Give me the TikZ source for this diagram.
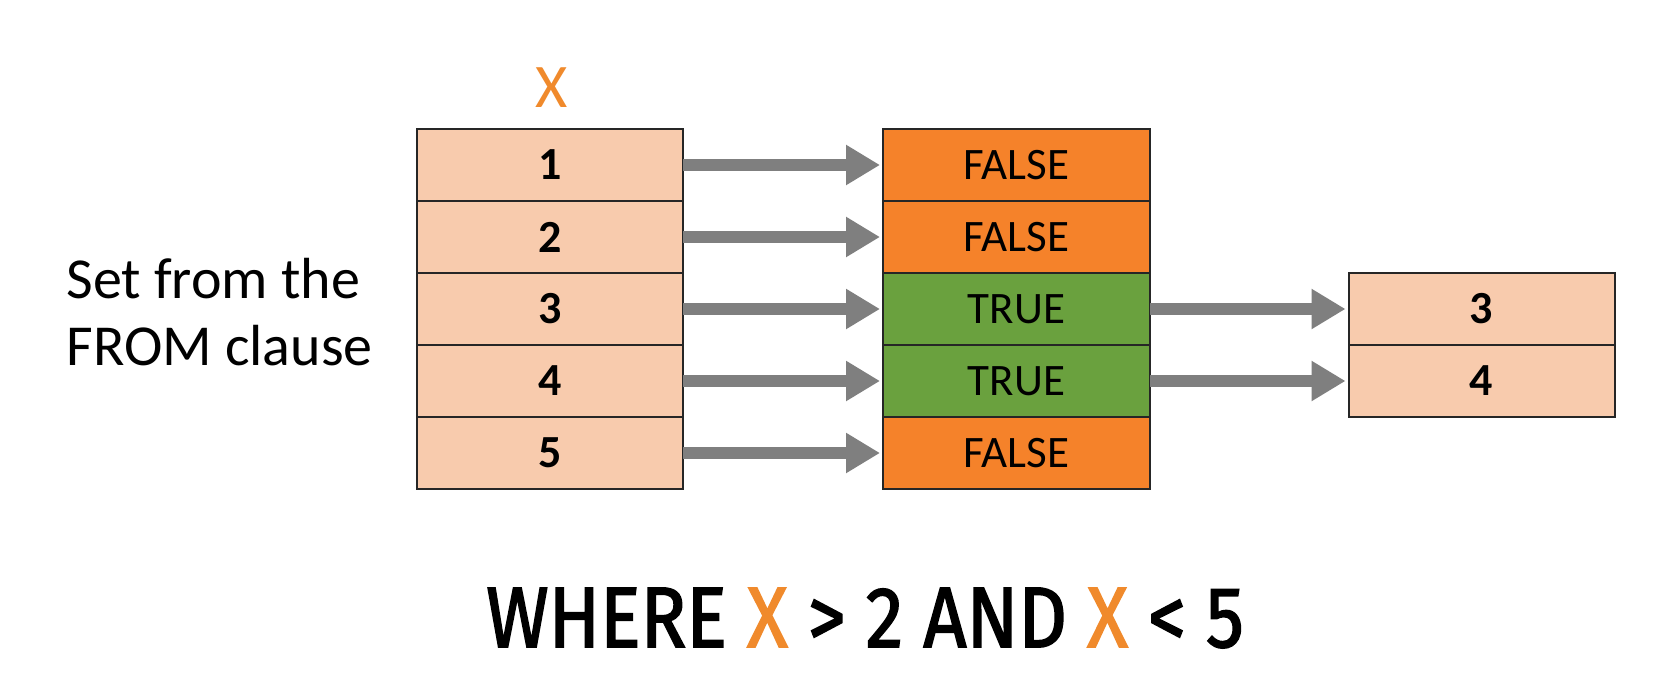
\documentclass[tikz,border=0pt]{standalone}
\usepackage{fontspec}
\setmainfont{Carlito}
\newfontfamily\bottomfont{Fira Sans}[FakeBold=2]
\usetikzlibrary{arrows.meta}
\definecolor{peach}{HTML}{F8CBAD}
\definecolor{orangefill}{HTML}{F5822A}
\definecolor{greenfill}{HTML}{6AA13E}
\definecolor{arrowgray}{HTML}{7F7F7F}
\definecolor{xorange}{HTML}{F08A2C}
\definecolor{border}{HTML}{262626}
\tikzset{
  cell/.style={draw=border, line width=2pt, minimum height=72pt, inner sep=0pt, outer sep=0pt},
  numcell/.style={cell, fill=peach, minimum width=266pt, font=\fontsize{46}{50}\selectfont\bfseries},
  falsecell/.style={cell, fill=orangefill, minimum width=267pt, font=\fontsize{45}{50}\selectfont},
  truecell/.style={cell, fill=greenfill, minimum width=267pt, font=\fontsize{45}{50}\selectfont},
  bigarrow/.style={draw=arrowgray, line width=12pt, -{Triangle[length=34pt,width=38pt]}, shorten >=3pt}
}
\begin{document}
\begin{tikzpicture}[x=1pt, y=-1pt]
\useasboundingbox (0,0) rectangle (1678,698);
\fill[white] (0,0) rectangle (1678,698);
% left table
\node[numcell] (l1) at (550,165) {1};
\node[numcell] (l2) at (550,237) {2};
\node[numcell] (l3) at (550,309) {3};
\node[numcell] (l4) at (550,381) {4};
\node[numcell] (l5) at (550,453) {5};
% middle table
\node[falsecell] (m1) at (1016.5,165) {FALSE};
\node[falsecell] (m2) at (1016.5,237) {FALSE};
\node[truecell]  (m3) at (1016.5,309) {TRUE};
\node[truecell]  (m4) at (1016.5,381) {TRUE};
\node[falsecell] (m5) at (1016.5,453) {FALSE};
% right table
\node[numcell] (r1) at (1481.5,309) {3};
\node[numcell] (r2) at (1481.5,381) {4};
% labels
\node[text=xorange, font=\fontsize{62}{66}\selectfont] (xlab) at (552,88) {X};
\node[anchor=west, align=left, font=\fontsize{58}{67}\selectfont] (setlab) at (63,312) {Set from the\\FROM clause};
\node[font=\bottomfont\fontsize{86}{90}\selectfont] (where) at (865,618)
  {\scalebox{0.88}[1]{WHERE \textcolor{xorange}{X} > 2 AND \textcolor{xorange}{X} < 5}};
% arrows
\foreach \i in {1,...,5} {
  \draw[bigarrow] (l\i.east) -- (m\i.west);
}
\draw[bigarrow] (m3.east) -- (r1.west);
\draw[bigarrow] (m4.east) -- (r2.west);
\end{tikzpicture}
\end{document}
